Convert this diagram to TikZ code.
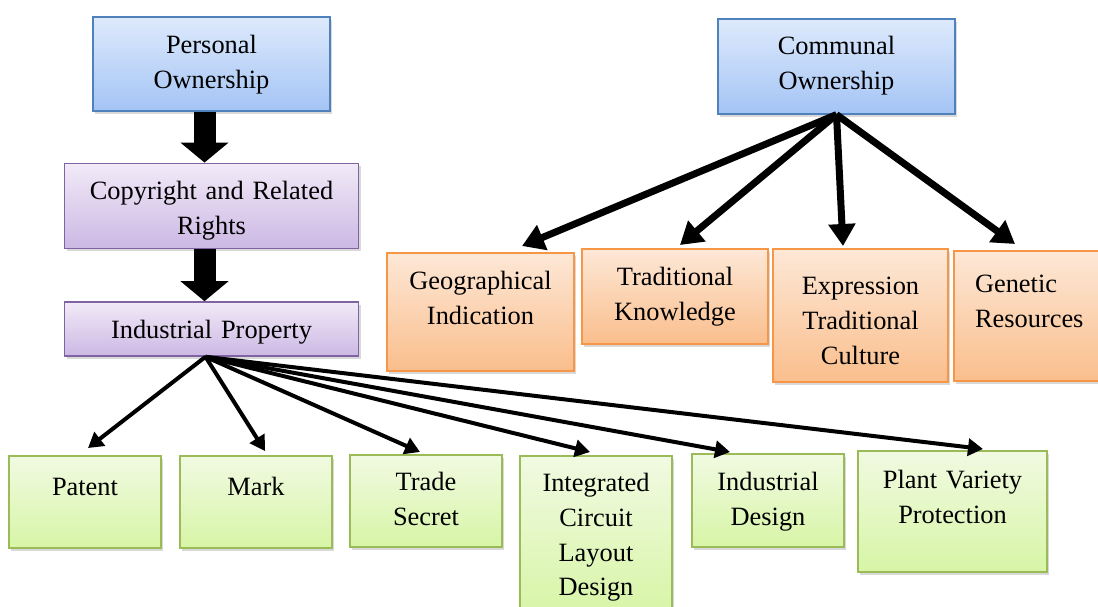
\documentclass[tikz,border=0pt]{standalone}
\usepackage{fontspec}
\setmainfont{Liberation Serif}
\usepackage{tikz}
\usetikzlibrary{arrows.meta, positioning, calc, shadows}

\definecolor{ownTop}{RGB}{222,234,252}
\definecolor{ownBot}{RGB}{164,196,245}
\definecolor{ownLine}{RGB}{79,129,189}
\definecolor{rightTop}{RGB}{241,234,247}
\definecolor{rightBot}{RGB}{204,184,228}
\definecolor{rightLine}{RGB}{128,100,162}
\definecolor{commTop}{RGB}{253,232,215}
\definecolor{commBot}{RGB}{250,190,140}
\definecolor{commLine}{RGB}{247,150,70}
\definecolor{leafTop}{RGB}{241,250,226}
\definecolor{leafBot}{RGB}{215,245,166}
\definecolor{leafLine}{RGB}{155,187,89}

\begin{document}
\begin{tikzpicture}[
  x=0.5pt, y=-0.5pt,
  font=\fontsize{13.2}{17.3}\selectfont,
  box/.style={
    rectangle, line width=0.8pt, anchor=north, align=center,
    inner xsep=2pt, inner ysep=0pt,
    drop shadow={opacity=0.3, shadow xshift=1pt, shadow yshift=-1.5pt}
  },
  ownbox/.style={box, draw=ownLine, top color=ownTop, bottom color=ownBot, text width=114.5pt},
  rightsbox/.style={box, draw=rightLine, top color=rightTop, bottom color=rightBot, text width=143pt},
  commbox/.style={box, draw=commLine, top color=commTop, bottom color=commBot},
  leafbox/.style={box, draw=leafLine, top color=leafTop, bottom color=leafBot},
  bigflow/.style={line width=11pt, -{Triangle[width=23.5pt, length=10pt]}},
  commflow/.style={line width=3.5pt, -{Triangle[width=13pt, length=11pt]}},
  indflow/.style={line width=2pt, -{Triangle[width=8.5pt, length=7.5pt]}}
]
\useasboundingbox (0,0) rectangle (1098,606);
\clip (0,0) rectangle (1098,606);

% Personal ownership column
\node[ownbox, text height=18.5pt, text depth=28.5pt] (pers) at (211.5,16) {Personal\\Ownership};
\node[rightsbox, below=25.5pt of pers, text height=18pt, text depth=24.5pt] (copy) {Copyright and Related\\Rights};
\node[rightsbox, below=26pt of copy, text height=18pt, text depth=9pt] (ind) {Industrial Property};

% Communal ownership
\node[ownbox, text height=18pt, text depth=29.5pt] (comm) at (836.5,18) {Communal\\Ownership};

% Communal branches
\node[commbox, text width=89.5pt, text height=18.5pt, text depth=40.5pt] (geo) at (480.5,252) {Geographical\\Indication};
\node[commbox, text width=89pt, text height=18.5pt, text depth=29pt] (tradk) at (675,248) {Traditional\\Knowledge};
\node[commbox, text width=83.5pt, text height=23pt, text depth=43.5pt] (expr) at (860.5,248) {Expression\\Traditional\\Culture};
\node[commbox, align=left, inner xsep=10.5pt, text width=66.5pt, text height=21pt, text depth=44pt] (genres) at (1041.5,250) {Genetic\\Resources};

% Industrial property branches
\node[leafbox, text width=72pt, text height=20pt, text depth=26pt] (patent) at (85,455) {Patent};
\node[leafbox, text width=72pt, text height=20pt, text depth=26pt] (mark) at (256,455) {Mark};
\node[leafbox, text width=72pt, text height=18pt, text depth=28pt] (trade) at (426,454) {Trade\\Secret};
\node[leafbox, text width=72pt, text height=18pt, text depth=62pt] (icld) at (596,455) {Integrated\\Circuit\\Layout\\Design};
\node[leafbox, text width=72pt, text height=18.5pt, text depth=28pt] (design) at (768,453) {Industrial\\Design};
\node[leafbox, text width=90.5pt, text height=19pt, text depth=41.5pt] (plant) at (952.5,450) {Plant Variety\\Protection};

% Block arrows
\draw[bigflow] ($(pers.south)+(-7,0)$) -- ($(copy.north)+(-7,0)$);
\draw[bigflow] ($(copy.south)+(-7,0)$) -- ($(ind.north)+(-7,0)$);

% Communal arrows
\draw[commflow] (comm.south) -- ($(geo.north)+(41.5,-6)$);
\draw[commflow] (comm.south) -- ($(tradk.north)+(5,-3)$);
\draw[commflow] (comm.south) -- ($(expr.north)+(-17.5,-2)$);
\draw[commflow] (comm.south) -- ($(genres.north)+(-26.5,-6)$);

% Industrial arrows
\draw[indflow] ($(ind.south)+(-6,0)$) -- ($(patent.north)+(3,-7)$);
\draw[indflow] ($(ind.south)+(-6,0)$) -- ($(mark.north)+(9,-4)$);
\draw[indflow] ($(ind.south)+(-6,0)$) -- ($(trade.north)+(-6,-2)$);
\draw[indflow] ($(ind.south)+(-6,0)$) -- ($(icld.north)+(-6,-3)$);
\draw[indflow] ($(ind.south)+(-6,0)$) -- ($(design.north)+(-38,-1)$);
\draw[indflow] ($(ind.south)+(-6,0)$) -- ($(plant.north)+(30.5,-1)$);

\end{tikzpicture}
\end{document}
